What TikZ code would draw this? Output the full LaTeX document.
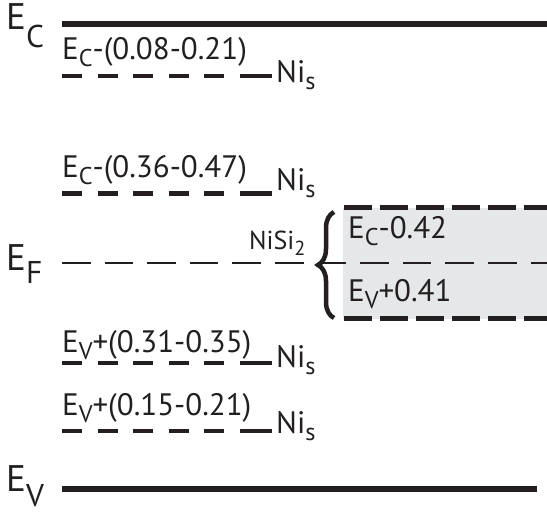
\documentclass[tikz,border=0pt]{standalone}
\usepackage{fontspec}
\setmainfont{PT Sans}
\usetikzlibrary{decorations.pathreplacing}
\definecolor{ink}{RGB}{35,31,32}
\definecolor{boxgray}{RGB}{230,231,232}
\newcommand{\lowsc}[1]{\raisebox{-0.24em}{\scalebox{0.78}{#1}}}
\newcommand{\bigsc}[2]{\raisebox{-#2}{\scalebox{0.85}{#1}}}
\begin{document}
\begin{tikzpicture}[x=1pt,y=-1pt,
  lvl/.style={draw=ink,line width=4.5pt,dash pattern=on 20pt off 15.6pt},
  lvlend/.style={draw=ink,line width=4.5pt},
  band/.style={draw=ink,line width=6pt},
  fermi/.style={draw=ink,line width=1.6pt,dash pattern=on 28.5pt off 14.1pt},
  boxedge/.style={draw=ink,line width=4.5pt,dash pattern=on 28pt off 8pt},
  lab/.style={inner sep=0pt,anchor=base west,text=ink,font=\fontsize{31}{31}\selectfont},
  biglab/.style={inner sep=0pt,anchor=base west,text=ink,font=\fontsize{37}{37}\selectfont},
  smlab/.style={inner sep=0pt,anchor=base west,text=ink,font=\fontsize{26}{26}\selectfont}]
\useasboundingbox (0,0) rectangle (547,515);
% band edges
\coordinate (ec1) at (62,24); \coordinate (ec2) at (547,24);
\coordinate (ev1) at (62,488.5); \coordinate (ev2) at (537,488.5);
\draw[band] (ec1) -- (ec2);
\draw[band] (ev1) -- (ev2);
\node[biglab] (EC) at (6,29) {E\bigsc{C}{0.5em}};
\node[biglab] (EF) at (6,270) {E\bigsc{F}{0.36em}};
\node[biglab] (EV) at (6,491) {E\bigsc{V}{0.42em}};
% NiSi2 box
\coordinate (b1) at (343,207.5); \coordinate (b2) at (547,318.5);
\fill[boxgray] (b1) rectangle (b2);
\coordinate (bt1) at (344,207.5); \coordinate (bt2) at (547,207.5);
\coordinate (bb1) at (344,318.5); \coordinate (bb2) at (547,318.5);
\draw[boxedge] (bt1) -- (bt2);
\draw[boxedge] (bb1) -- (bb2);
% Fermi level
\coordinate (ef1) at (62,263); \coordinate (ef2) at (547,263);
\draw[fermi] (ef1) -- (ef2);
% brace
\coordinate (br1) at (334,318); \coordinate (br2) at (334,212);
\draw[ink,line width=4.5pt,decorate,decoration={brace,amplitude=16pt,aspect=0.5}] (br1) -- (br2);
\node[smlab] (nisi) at (249,249) {NiSi\lowsc{2}};
\node[lab] (b1t) at (348,238) {E\lowsc{C}-0.42};
\node[lab] (b2t) at (348,301) {E\lowsc{V}+0.41};
% defect levels
\coordinate (l1a) at (62,76); \coordinate (l1m) at (226,76);
\coordinate (l1c) at (240,76); \coordinate (l1b) at (272,76);
\draw[lvl] (l1a) -- (l1m); \draw[lvlend] (l1c) -- (l1b);
\node[lab] (t1) at (62,59) {E\lowsc{C}-(0.08-0.21)};
\node[lab] (n1) at (276,82) {Ni\lowsc{s}};
\coordinate (l2a) at (62,193.5); \coordinate (l2m) at (226,193.5);
\coordinate (l2c) at (240,193.5); \coordinate (l2b) at (272,193.5);
\draw[lvl] (l2a) -- (l2m); \draw[lvlend] (l2c) -- (l2b);
\node[lab] (t2) at (62,177) {E\lowsc{C}-(0.36-0.47)};
\node[lab] (n2) at (276,190) {Ni\lowsc{s}};
\coordinate (l3a) at (62,363); \coordinate (l3m) at (226,363);
\coordinate (l3c) at (240,363); \coordinate (l3b) at (272,363);
\draw[lvl] (l3a) -- (l3m); \draw[lvlend] (l3c) -- (l3b);
\node[lab] (t3) at (62,352) {E\lowsc{V}+(0.31-0.35)};
\node[lab] (n3) at (276,367) {Ni\lowsc{s}};
\coordinate (l4a) at (62,431); \coordinate (l4m) at (226,431);
\coordinate (l4c) at (240,431); \coordinate (l4b) at (272,431);
\draw[lvl] (l4a) -- (l4m); \draw[lvlend] (l4c) -- (l4b);
\node[lab] (t4) at (62,415) {E\lowsc{V}+(0.15-0.21)};
\node[lab] (n4) at (276,433) {Ni\lowsc{s}};
\end{tikzpicture}
\end{document}
